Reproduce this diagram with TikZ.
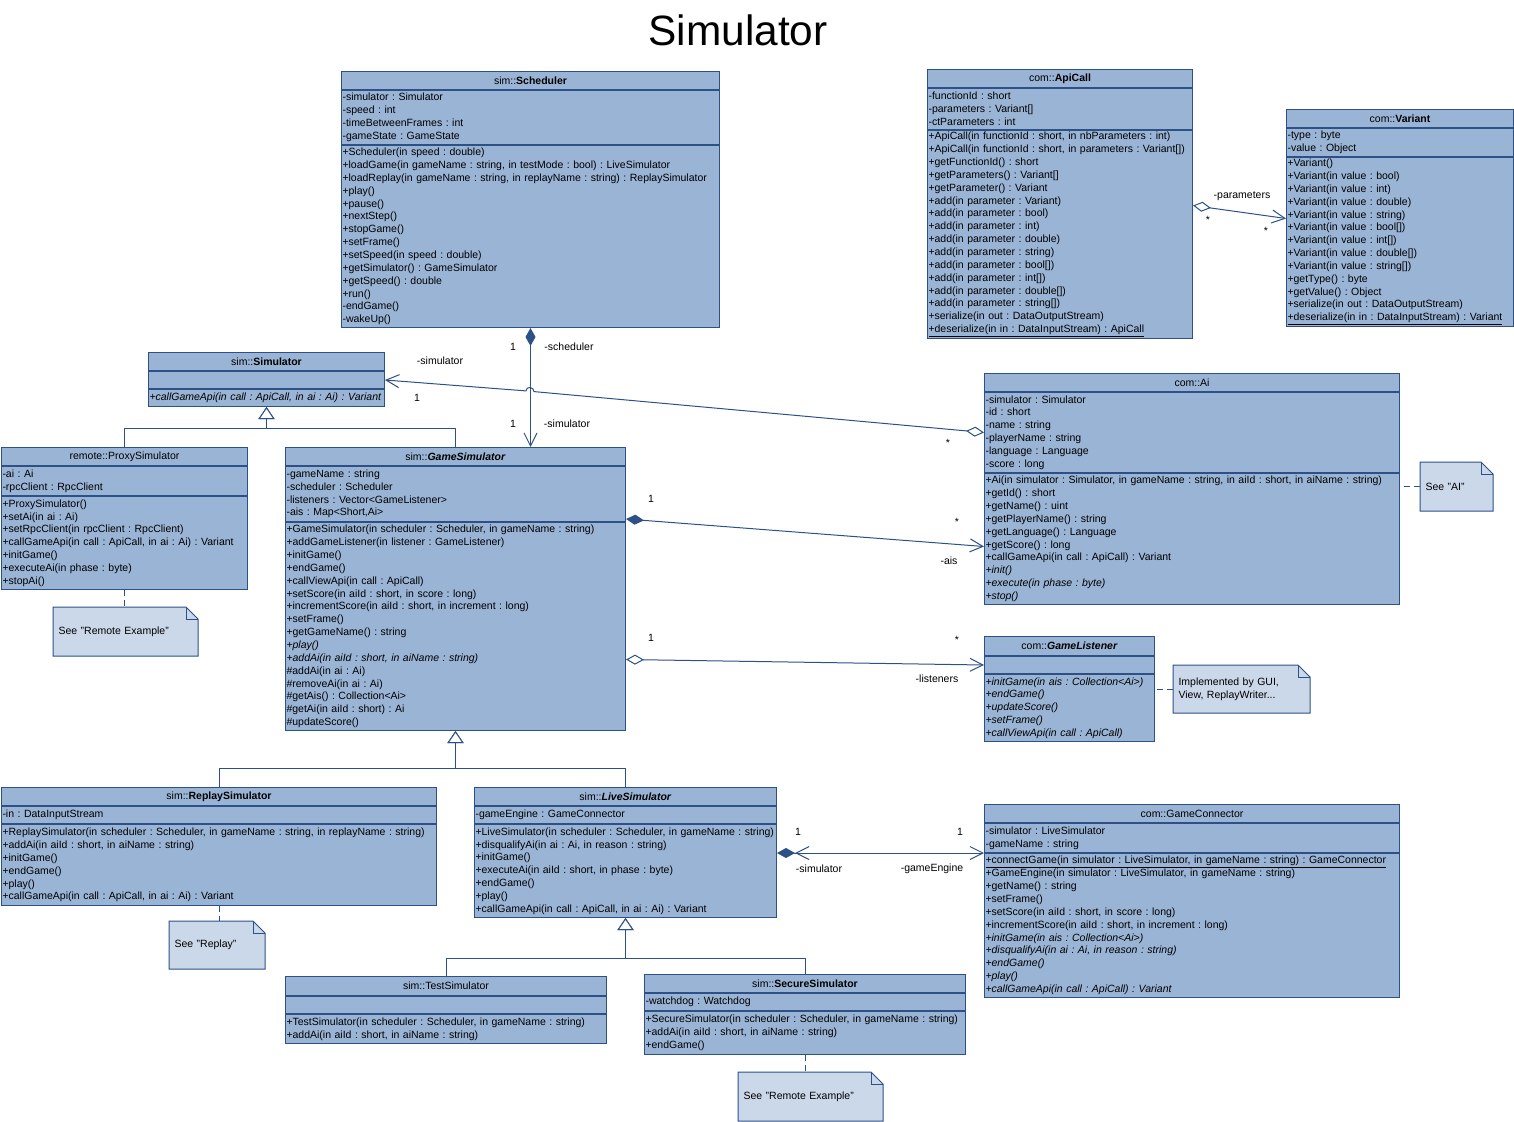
\documentclass[tikz,border=0pt]{standalone}
\usepackage{fontspec}
\setmainfont{Liberation Sans}
\usetikzlibrary{arrows.meta,positioning,backgrounds}
\definecolor{umlfill}{RGB}{154,180,213}
\definecolor{umlline}{RGB}{45,80,135}
\definecolor{notefill}{RGB}{203,216,234}
\newcommand{\umlfont}{\fontsize{10.5}{12.85}\selectfont\frenchspacing}
\tikzstyle{classhead}=[draw=umlline, fill=umlfill, anchor=north west, inner sep=0pt, minimum height=18pt, font=\umlfont]
\tikzstyle{classpart}=[draw=umlline, fill=umlfill, anchor=north west, inner xsep=1pt, inner ysep=0pt, align=left, font=\umlfont]
\tikzstyle{notebox}=[anchor=north west, inner xsep=5pt, inner ysep=0pt, align=left, font=\umlfont]
\tikzstyle{lbl}=[font=\umlfont, inner sep=0pt]
\tikzstyle{assoc}=[draw=umlline, line width=1pt]
\tikzstyle{compose}=[assoc, {Diamond[length=18pt,width=10pt]}-{Straight Barb[length=13pt,width=13pt]}]
\tikzstyle{aggregate}=[assoc, {Diamond[fill=white,length=18pt,width=10pt]}-{Straight Barb[length=13pt,width=13pt]}]
\tikzstyle{inherit}=[assoc, -{Triangle[fill=white,length=12pt,width=16pt]}]
\tikzstyle{notelink}=[assoc, dash pattern=on 6pt off 4pt]
% folded note outline, drawn behind the note text
\newcommand{\notefold}[1]{%
  \begin{pgfonlayer}{background}
    \filldraw[fill=notefill, draw=umlline, line width=1pt] (#1.north west) -- ([xshift=-12pt]#1.north east) -- ([yshift=-12pt]#1.north east) -- (#1.south east) -- (#1.south west) -- cycle;
    \draw[umlline, line width=1pt] ([xshift=-12pt]#1.north east) |- ([yshift=-12pt]#1.north east);
  \end{pgfonlayer}}

\begin{document}
\begin{tikzpicture}[x=1pt, y=-1pt, line width=1pt]
	\useasboundingbox (0,0) rectangle (1514,1121);
	
	\node[font=\fontsize{42.4}{50}\selectfont] at (738,30) (title) {Simulator};
	
	% sim::Scheduler
	\node[classhead, minimum width=378pt] at (341,71) (sched) {sim::\textbf{Scheduler}};
	\node[classpart, text width=376pt, minimum height=54pt] at (sched.south west) (sched-a) {-simulator : Simulator\\-speed : int\\-timeBetweenFrames : int\\-gameState : GameState};
	\node[classpart, text width=376pt, minimum height=182pt] at (sched-a.south west) (sched-o) {+Scheduler(in speed : double)\\+loadGame(in gameName : string, in testMode : bool) : LiveSimulator\\+loadReplay(in gameName : string, in replayName : string) : ReplaySimulator\\+play()\\+pause()\\+nextStep()\\+stopGame()\\+setFrame()\\+setSpeed(in speed : double)\\+getSimulator() : GameSimulator\\+getSpeed() : double\\+run()\\-endGame()\\-wakeUp()};
	
	% com::ApiCall
	\node[classhead, minimum width=265pt] at (927,69) (apicall) {com::\textbf{ApiCall}};
	\node[classpart, text width=263pt, minimum height=41pt] at (apicall.south west) (apicall-a) {-functionId : short\\-parameters : Variant[]\\-ctParameters : int};
	\node[classpart, text width=263pt, minimum height=208pt] at (apicall-a.south west) (apicall-o) {+ApiCall(in functionId : short, in nbParameters : int)\\\mbox{+ApiCall(in functionId : short, in parameters : Variant[])}\\+getFunctionId() : short\\+getParameters() : Variant[]\\+getParameter() : Variant\\+add(in parameter : Variant)\\+add(in parameter : bool)\\+add(in parameter : int)\\+add(in parameter : double)\\+add(in parameter : string)\\+add(in parameter : bool[])\\+add(in parameter : int[])\\+add(in parameter : double[])\\+add(in parameter : string[])\\+serialize(in out : DataOutputStream)\\\underline{+deserialize(in in : DataInputStream) : ApiCall}};
	
	% com::Variant
	\node[classhead, minimum width=227pt] at (1286,109) (variant) {com::\textbf{Variant}};
	\node[classpart, text width=225pt, minimum height=28pt] at (variant.south west) (variant-a) {-type : byte\\-value : Object};
	\node[classpart, text width=225pt, minimum height=169pt] at (variant-a.south west) (variant-o) {+Variant()\\+Variant(in value : bool)\\+Variant(in value : int)\\+Variant(in value : double)\\+Variant(in value : string)\\+Variant(in value : bool[])\\+Variant(in value : int[])\\+Variant(in value : double[])\\+Variant(in value : string[])\\+getType() : byte\\+getValue() : Object\\+serialize(in out : DataOutputStream)\\\mbox{\underline{+deserialize(in in : DataInputStream) : Variant}}};
	
	% sim::Simulator
	\node[classhead, minimum width=236pt] at (148,352) (sim) {sim::\textbf{Simulator}};
	\node[classpart, text width=234pt, minimum height=17pt] at (sim.south west) (sim-a) {};
	\node[classpart, text width=234pt, minimum height=17pt] at (sim-a.south west) (sim-o) {\mbox{\textit{+callGameApi(in call : ApiCall, in ai : Ai) : Variant}}};
	
	% remote::ProxySimulator
	\node[classhead, minimum width=246pt] at (1,447) (proxy) {remote::ProxySimulator};
	\node[classpart, text width=244pt, minimum height=29pt] at (proxy.south west) (proxy-a) {-ai : Ai\\-rpcClient : RpcClient};
	\node[classpart, text width=244pt, minimum height=93pt] at (proxy-a.south west) (proxy-o) {+ProxySimulator()\\+setAi(in ai : Ai)\\+setRpcClient(in rpcClient : RpcClient)\\+callGameApi(in call : ApiCall, in ai : Ai) : Variant\\+initGame()\\+executeAi(in phase : byte)\\+stopAi()};
	
	% sim::GameSimulator
	\node[classhead, minimum width=340pt] at (285,447) (gsim) {sim::\textbf{\textit{GameSimulator}}};
	\node[classpart, text width=338pt, minimum height=55pt] at (gsim.south west) (gsim-a) {-gameName : string\\-scheduler : Scheduler\\-listeners : Vector<GameListener>\\-ais : Map<Short,Ai>};
	\node[classpart, text width=338pt, minimum height=208pt] at (gsim-a.south west) (gsim-o) {+GameSimulator(in scheduler : Scheduler, in gameName : string)\\+addGameListener(in listener : GameListener)\\+initGame()\\+endGame()\\+callViewApi(in call : ApiCall)\\+setScore(in aiId : short, in score : long)\\+incrementScore(in aiId : short, in increment : long)\\+setFrame()\\+getGameName() : string\\\textit{+play()}\\\textit{+addAi(in aiId : short, in aiName : string)}\\\#addAi(in ai : Ai)\\\#removeAi(in ai : Ai)\\\#getAis() : Collection<Ai>\\\#getAi(in aiId : short) : Ai\\\#updateScore()};
	
	% com::Ai
	\node[classhead, minimum width=415pt] at (984,373) (ai) {com::Ai};
	\node[classpart, text width=413pt, minimum height=80pt] at (ai.south west) (ai-a) {-simulator : Simulator\\-id : short\\-name : string\\-playerName : string\\-language : Language\\-score : long};
	\node[classpart, text width=413pt, minimum height=131pt] at (ai-a.south west) (ai-o) {+Ai(in simulator : Simulator, in gameName : string, in aiId : short, in aiName : string)\\+getId() : short\\+getName() : uint\\+getPlayerName() : string\\+getLanguage() : Language\\+getScore() : long\\+callGameApi(in call : ApiCall) : Variant\\\textit{+init()}\\\textit{+execute(in phase : byte)}\\\textit{+stop()}};
	
	% com::GameListener
	\node[classhead, minimum width=170pt, minimum height=19pt] at (984,636) (gl) {com::\textbf{\textit{GameListener}}};
	\node[classpart, text width=168pt, minimum height=17pt] at (gl.south west) (gl-a) {};
	\node[classpart, text width=168pt, minimum height=67pt] at (gl-a.south west) (gl-o) {\textit{+initGame(in ais : Collection<Ai>)}\\\textit{+endGame()}\\\textit{+updateScore()}\\\textit{+setFrame()}\\\textit{+callViewApi(in call : ApiCall)}};
	
	% sim::ReplaySimulator
	\node[classhead, minimum width=435pt] at (1,787) (replay) {sim::\textbf{ReplaySimulator}};
	\node[classpart, text width=433pt, minimum height=17pt] at (replay.south west) (replay-a) {-in : DataInputStream};
	\node[classpart, text width=433pt, minimum height=81pt] at (replay-a.south west) (replay-o) {\mbox{+ReplaySimulator(in scheduler : Scheduler, in gameName : string, in replayName : string)}\\+addAi(in aiId : short, in aiName : string)\\+initGame()\\+endGame()\\+play()\\+callGameApi(in call : ApiCall, in ai : Ai) : Variant};
	
	% sim::LiveSimulator
	\node[classhead, minimum width=302pt] at (474,787) (live) {sim::\textbf{\textit{LiveSimulator}}};
	\node[classpart, text width=300pt, minimum height=17pt] at (live.south west) (live-a) {-gameEngine : GameConnector};
	\node[classpart, text width=300pt, minimum height=93pt] at (live-a.south west) (live-o) {\mbox{+LiveSimulator(in scheduler : Scheduler, in gameName : string)}\\+disqualifyAi(in ai : Ai, in reason : string)\\+initGame()\\+executeAi(in aiId : short, in phase : byte)\\+endGame()\\+play()\\+callGameApi(in call : ApiCall, in ai : Ai) : Variant};
	
	% com::GameConnector
	\node[classhead, minimum width=415pt] at (984,804) (gc) {com::GameConnector};
	\node[classpart, text width=413pt, minimum height=29pt] at (gc.south west) (gc-a) {-simulator : LiveSimulator\\-gameName : string};
	\node[classpart, text width=413pt, minimum height=144pt] at (gc-a.south west) (gc-o) {\underline{+connectGame(in simulator : LiveSimulator, in gameName : string) : GameConnector}\\+GameEngine(in simulator : LiveSimulator, in gameName : string)\\+getName() : string\\+setFrame()\\+setScore(in aiId : short, in score : long)\\+incrementScore(in aiId : short, in increment : long)\\\textit{+initGame(in ais : Collection<Ai>)}\\\textit{+disqualifyAi(in ai : Ai, in reason : string)}\\\textit{+endGame()}\\\textit{+play()}\\\textit{+callGameApi(in call : ApiCall) : Variant}};
	
	% sim::TestSimulator
	\node[classhead, minimum width=321pt, minimum height=19pt] at (285,976) (test) {sim::TestSimulator};
	\node[classpart, text width=319pt, minimum height=17pt] at (test.south west) (test-a) {};
	\node[classpart, text width=319pt, minimum height=29pt] at (test-a.south west) (test-o) {+TestSimulator(in scheduler : Scheduler, in gameName : string)\\+addAi(in aiId : short, in aiName : string)};
	
	% sim::SecureSimulator
	\node[classhead, minimum width=321pt] at (644,974) (secure) {sim::\textbf{SecureSimulator}};
	\node[classpart, text width=319pt, minimum height=17pt] at (secure.south west) (secure-a) {-watchdog : Watchdog};
	\node[classpart, text width=319pt, minimum height=43pt] at (secure-a.south west) (secure-o) {\mbox{+SecureSimulator(in scheduler : Scheduler, in gameName : string)}\\+addAi(in aiId : short, in aiName : string)\\+endGame()};
	
	% notes
	\node[notebox, text width=134pt, minimum height=48pt] at (53,607) (note1) {See "Remote Example"};
	\node[notebox, text width=85pt, minimum height=47pt] at (169,921) (note2) {See "Replay"};
	\node[notebox, text width=62pt, minimum height=48pt] at (1420,462) (note3) {See "AI"};
	\node[notebox, text width=126pt, minimum height=47pt] at (1173,665) (note4) {Implemented by GUI,\\View, ReplayWriter...};
	\node[notebox, text width=134pt, minimum height=48pt] at (738,1072) (note5) {See "Remote Example"};
	\notefold{note1}
	\notefold{note2}
	\notefold{note3}
	\notefold{note4}
	\notefold{note5}
	
	\draw[notelink] (proxy-o.south) -- (proxy-o.south |- note1.north);
	\draw[notelink] (replay-o.south) -- (replay-o.south |- note2.north);
	\draw[notelink] (note3.west) -- (note3.west -| ai-o.east);
	\draw[notelink] (note4.west) -- (note4.west -| gl-o.east);
	\draw[notelink] (secure-o.south) -- (secure-o.south |- note5.north);
	
	% generalizations
	\draw[inherit] (proxy.north) -- ++(0,-19) -| (sim-o.south);
	\draw[inherit] (gsim.north) -- ++(0,-19) -| (sim-o.south);
	\draw[inherit] (replay.north) -- ++(0,-19) -| (gsim-o.south);
	\draw[inherit] (live.north) -- ++(0,-19) -| (gsim-o.south);
	\draw[inherit] (test.north) -- ++(0,-18) -| (live-o.south);
	\draw[inherit] (secure.north) -- ++(0,-16) -| (live-o.south);
	
	% associations
	\draw[compose] (sched-o.south) -- (sched-o.south |- gsim.north);
	% small hop where it crosses the scheduler link
	\draw[aggregate] (ai-a.west) -- (534,391.6) .. controls (534,386.6) and (526,385.9) .. (526,390.9) -- (sim-a.east);
	\draw[compose] ([yshift=3pt]gsim-o.north east) -- ([yshift=-7.5pt]ai-o.west);
	\draw[aggregate] ([yshift=-33pt]gsim-o.east) -- (gl-a.west);
	\draw[assoc, {Diamond[length=18pt,width=10pt] Straight Barb[length=13pt,width=13pt]}-{Straight Barb[length=13pt,width=13pt]}] (live-o.east |- gc-a.south west) -- (gc-a.south west);
	\draw[aggregate] ([yshift=29pt]apicall-o.east) -- ([yshift=23.5pt]variant-o.west);
	
	\node[lbl] at (513,347) {1};
	\node[lbl] at (569,347) {-scheduler};
	\node[lbl] at (513,424) {1};
	\node[lbl] at (567,424) {-simulator};
	\node[lbl] at (440,361) {-simulator};
	\node[lbl] at (417,398) {1};
	\node[lbl] at (948,443) {*};
	\node[lbl] at (651,499) {1};
	\node[lbl] at (957,522) {*};
	\node[lbl] at (949,561) {-ais};
	\node[lbl] at (651,638) {1};
	\node[lbl] at (957,640) {*};
	\node[lbl] at (937,679) {-listeners};
	\node[lbl] at (798,832) {1};
	\node[lbl] at (819,869) {-simulator};
	\node[lbl] at (960,832) {1};
	\node[lbl] at (932,869) {-gameEngine};
	\node[lbl] at (1242,196) {-parameters};
	\node[lbl] at (1208,220) {*};
	\node[lbl] at (1266,231) {*};
	
\end{tikzpicture}
\end{document}
